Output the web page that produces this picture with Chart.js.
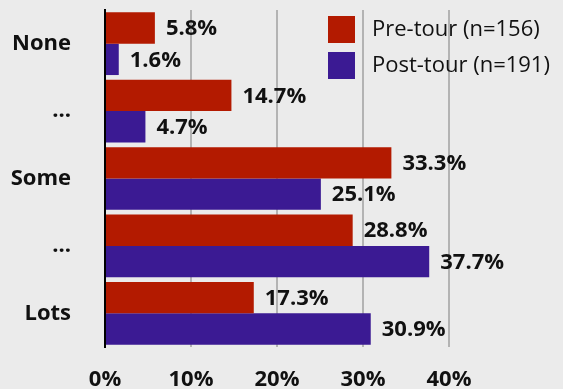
<!DOCTYPE html>
<html>
<head>
<meta charset="utf-8">
<script src="https://cdn.jsdelivr.net/npm/chart.js@4"></script>
<style>
  html, body { margin: 0; padding: 0; background: #ebebeb; }
  canvas { display: block; }
</style>
</head>
<body>
<canvas id="chart" width="563" height="389"></canvas>
<script>
const categories = ['None', '...', 'Some', '...', 'Lots'];
const preTour = [5.8, 14.7, 33.3, 28.8, 17.3];
const postTour = [1.6, 4.7, 25.1, 37.7, 30.9];
const seriesNames = ['Pre-tour (n=156)', 'Post-tour (n=191)'];
const xTicks = [0, 10, 20, 30, 40];

const FONT = "'Open Sans', 'DejaVu Sans', sans-serif";
const RED = '#b31a00';
const PURPLE = '#3b1a93';

// value labels to the right of each bar
const barLabels = {
  id: 'barLabels',
  afterDatasetsDraw(chart) {
    const ctx = chart.ctx;
    ctx.save();
    ctx.font = `bold 22px ${FONT}`;
    ctx.fillStyle = '#111';
    ctx.textAlign = 'left';
    ctx.textBaseline = 'middle';
    chart.data.datasets.forEach((ds, i) => {
      chart.getDatasetMeta(i).data.forEach((bar, j) => {
        ctx.fillText(ds.data[j].toFixed(1) + '%', bar.x + 11, bar.y + 1);
      });
    });
    ctx.restore();
  },
};

// legend sitting inside the plot, top right
const insideLegend = {
  id: 'insideLegend',
  afterDraw(chart) {
    const ctx = chart.ctx;
    ctx.save();
    ctx.font = `22px ${FONT}`;
    ctx.textBaseline = 'middle';
    chart.data.datasets.forEach((ds, i) => {
      const y = 16 + i * 36;
      ctx.fillStyle = ds.backgroundColor;
      ctx.fillRect(328, y, 27, 27);
      ctx.fillStyle = '#111';
      ctx.fillText(ds.label, 372, y + 14);
    });
    ctx.restore();
  },
};

new Chart(document.getElementById('chart'), {
  type: 'bar',
  data: {
    labels: categories,
    datasets: [
      { label: seriesNames[0], data: preTour, backgroundColor: RED },
      { label: seriesNames[1], data: postTour, backgroundColor: PURPLE },
    ],
  },
  options: {
    indexAxis: 'y',
    responsive: false,
    animation: false,
    layout: { padding: { top: 10, right: 114, left: 0, bottom: 0 } },
    datasets: { bar: { barPercentage: 1, categoryPercentage: 0.93 } },
    plugins: {
      legend: { display: false },
      tooltip: { enabled: false },
    },
    scales: {
      x: {
        min: 0,
        max: 40,
        afterBuildTicks: (scale) => { scale.ticks = xTicks.map(v => ({ value: v })); },
        afterFit: (scale) => { scale.height = 42; },
        grid: {
          color: (c) => (c.tick && c.tick.value === 0 ? 'rgba(0,0,0,0)' : '#b3b3b3'),
          lineWidth: 2,
          drawTicks: false,
        },
        border: { display: false },
        ticks: {
          padding: 20,
          color: '#111',
          font: { family: FONT, size: 22, weight: 'bold' },
          callback: (v) => v + '%',
        },
      },
      y: {
        // fixed width, and drop the label padding Chart.js adds above/below
        afterFit: (scale) => {
          scale.width = 105;
          scale.paddingTop = 0;
          scale.paddingBottom = 0;
        },
        grid: { display: false, drawTicks: false },
        border: { display: true, color: '#000', width: 2 },
        ticks: {
          padding: 34,
          color: '#111',
          font: { family: FONT, size: 22, weight: 'bold' },
        },
      },
    },
  },
  plugins: [barLabels, insideLegend],
});
</script>
</body>
</html>
